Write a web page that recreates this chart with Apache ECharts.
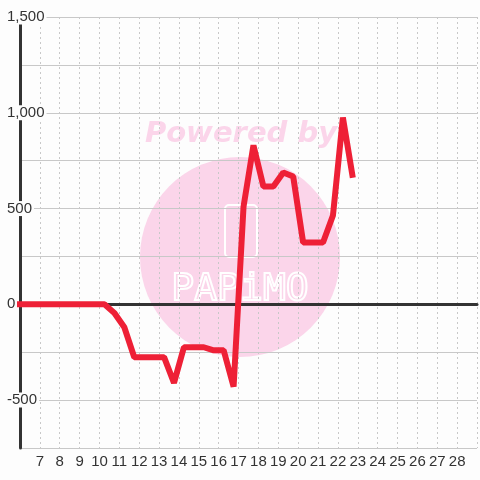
<!DOCTYPE html>
<html>
<head>
<meta charset="utf-8">
<script src="https://cdn.jsdelivr.net/npm/echarts@6/dist/echarts.min.js"></script>
<style>
  html, body { margin: 0; padding: 0; background: #fdfdfd; }
  #chart { width: 480px; height: 480px; }
</style>
</head>
<body>
<div id="chart"></div>
<script>
// data (x = day, y = value)
var days = [5.75, 6.25, 6.75, 7.25, 7.75, 8.25, 8.75, 9.25, 9.75, 10.25, 10.75, 11.25, 11.75,
  12.25, 12.75, 13.25, 13.75, 14.25, 14.75, 15.25, 15.75, 16.25, 16.75, 17.25, 17.75,
  18.25, 18.75, 19.25, 19.75, 20.25, 20.75, 21.25, 21.75, 22.25, 22.75];
var values = [0, 0, 0, 0, 0, 0, 0, 0, 0, 0, -45, -120, -276,
  -276, -276, -276, -410, -224, -224, -224, -240, -240, -430, 510, 830,
  615, 615, 688, 667, 323, 323, 323, 464, 975, 661];
var xMin = 6, xMax = 29;
var yMin = -750, yMax = 1500;

var chart = echarts.init(document.getElementById("chart"));
var points = days.map(function (d, i) { return [d, values[i]]; });

var option = {
  backgroundColor: "#fdfdfd",
  animation: false,
  grid: { left: 20, right: 0, top: 17, bottom: 32 },
  graphic: [
    { type: "circle", z: -10, shape: { cx: 240, cy: 257, r: 100 }, style: { fill: "#fbd5ea" } },
    { type: "text", z: -10, x: 241, y: 134,
      style: { text: "Powered by", fill: "#fbd5ea", font: "italic bold 29px 'DejaVu Sans'", align: "center", verticalAlign: "middle" } },
    { type: "rect", z: -9, shape: { x: 225, y: 205, width: 32, height: 52, r: 4 },
      style: { fill: "none", stroke: "#ffffff", lineWidth: 2 } },
    { type: "text", z: -9, x: 240, y: 290,
      style: { text: "PAPiMO", fill: "none", stroke: "#ffffff", lineWidth: 2, font: "38px 'DejaVu Sans Mono'", align: "center", verticalAlign: "middle" } }
  ],
  xAxis: [{
    type: "value",
    min: xMin,
    max: xMax,
    interval: 1,
    axisLine: { onZero: false, show: false },
    axisTick: { show: false },
    axisLabel: {
      color: "#333",
      fontSize: 15,
      fontFamily: "Liberation Sans",
      margin: 6,
      formatter: function (v) { return (v < 7 || v > 28) ? "" : String(v); }
    },
    splitLine: { show: true, lineStyle: { color: "#c8c8c8", type: [2, 3], width: 1 } }
  }, {
    type: "value",
    min: xMin,
    max: xMax,
    position: "bottom",
    axisLine: { onZero: true, lineStyle: { color: "#333", width: 3 } },
    axisTick: { show: false },
    axisLabel: { show: false },
    splitLine: { show: false }
  }],
  yAxis: {
    type: "value",
    min: yMin,
    max: yMax,
    interval: 250,
    axisLine: { show: true, lineStyle: { color: "#333", width: 3 } },
    axisTick: { show: false },
    axisLabel: {
      color: "#333",
      fontSize: 15,
      fontFamily: "Liberation Sans",
      align: "left",
      margin: 14,
      formatter: function (v) {
        if (v % 500 !== 0) return "";
        return "{a|" + v.toLocaleString("en-US") + "}";
      },
      rich: { a: { backgroundColor: "#fdfdfd", padding: [0, 2, 0, 1], fontSize: 15, color: "#333", fontFamily: "Liberation Sans" } }
    },
    splitLine: { show: true, lineStyle: { color: "#c8c8c8", width: 1 } }
  },
  series: [{
    type: "line",
    xAxisIndex: 0,
    data: points,
    showSymbol: false,
    clip: true,
    z: 5,
    lineStyle: { color: "#ee2036", width: 6, join: "bevel" }
  }]
};

chart.setOption(option);
</script>
</body>
</html>
